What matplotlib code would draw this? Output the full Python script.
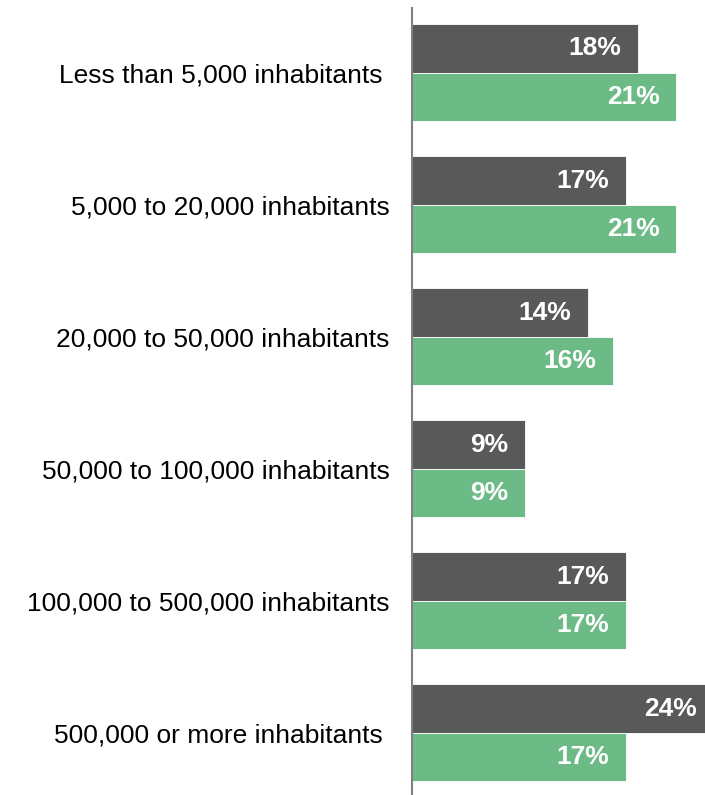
import matplotlib
matplotlib.use("Agg")
import matplotlib.pyplot as plt
import numpy as np

plt.rcParams['font.family'] = ['Liberation Sans', 'DejaVu Sans']

categories = [
    "Less than 5,000 inhabitants ",
    "5,000 to 20,000 inhabitants",
    "20,000 to 50,000 inhabitants",
    "50,000 to 100,000 inhabitants",
    "100,000 to 500,000 inhabitants",
    "500,000 or more inhabitants ",
]
series_dark = [18, 17, 14, 9, 17, 24]
series_green = [21, 21, 16, 9, 17, 17]

color_dark = "#595959"
color_green = "#6cbb87"

fig = plt.figure(figsize=(7.05, 7.95), dpi=100)
ax = fig.add_axes([412 / 705, 0.0, 293 / 705, 787 / 795])

y = np.arange(len(categories))
h = 0.367
bars_d = ax.barh(y - h / 2, series_dark, height=h, color=color_dark,
                 edgecolor="white", linewidth=0.6)
bars_g = ax.barh(y + h / 2, series_green, height=h, color=color_green,
                 edgecolor="white", linewidth=0.6)

for bars, vals in ((bars_d, series_dark), (bars_g, series_green)):
    for b, v in zip(bars, vals):
        ax.annotate(f"{v}%", xy=(v, b.get_y() + b.get_height() / 2),
                    xytext=(-12, 0), textcoords="offset points",
                    ha="right", va="center", color="white",
                    fontsize=19, fontweight="bold", annotation_clip=False)

ax.set_xlim(0, 23.3)
ax.set_ylim(len(categories) - 0.53, -0.49)
ax.set_yticks(y)
ax.set_yticklabels(categories, fontsize=19, color="black")
ax.tick_params(axis="y", length=0, pad=16)
ax.set_xticks([])
for s in ("top", "right", "bottom"):
    ax.spines[s].set_visible(False)
ax.spines["left"].set_color("#808080")
ax.spines["left"].set_linewidth(1.5)

fig.savefig("out.png", dpi=100)
